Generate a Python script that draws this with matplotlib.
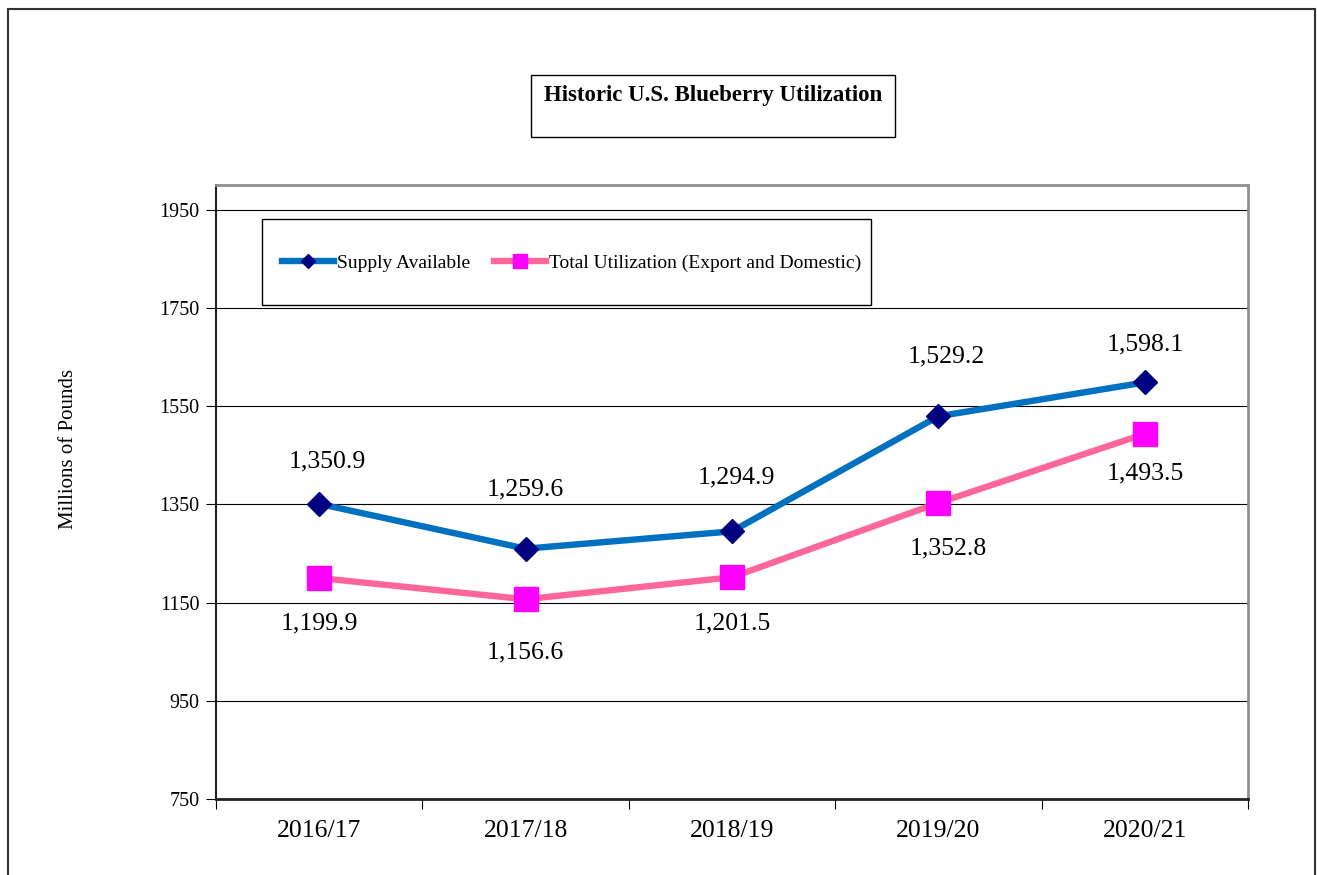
import numpy as np
import matplotlib
matplotlib.use("Agg")
import matplotlib.pyplot as plt
from matplotlib.patches import Rectangle

plt.rcParams['font.family'] = ['Liberation Serif', 'DejaVu Serif']

# data
seasons = ['2016/17', '2017/18', '2018/19', '2019/20', '2020/21']
supply = [1350.9, 1259.6, 1294.9, 1529.2, 1598.1]
utilization = [1199.9, 1156.6, 1201.5, 1352.8, 1493.5]
yticks = [750, 950, 1150, 1350, 1550, 1750, 1950]

# label nudges in pixels (as placed in the original)
supply_dy = [42, 59, 54, 60, 38]
supply_dx = [8, 0, 4, 8, 0]
util_dy = [45, 53, 46, 46, 40]
util_dx = [0, 0, 0, 10, 0]

W, H = 1317, 875
fig = plt.figure(figsize=(W / 100, H / 100), dpi=100)


def fbox(x0, y0, x1, y1):
    # pixel box (top-left origin) -> figure fraction
    return [x0 / W, 1 - y1 / H, (x1 - x0) / W, (y1 - y0) / H]


ax = fig.add_axes(fbox(216, 185, 1248, 799))
x = np.arange(len(seasons))

ax.plot(x, supply, color='#0070C0', lw=4.6, marker='D', ms=12.5,
        mfc='#000080', mec='#000080', label='Supply Available', zorder=3)
ax.plot(x, utilization, color='#FF6699', lw=4.6, marker='s', ms=17,
        mfc='#FF00FF', mec='#FF00FF', label='Total Utilization (Export and Domestic)',
        zorder=3)

for i, v in enumerate(supply):
    ax.annotate(f'{v:,.1f}', (x[i], v), xytext=(supply_dx[i], supply_dy[i]),
                textcoords='offset pixels', ha='center', va='center', fontsize=18.5)
for i, v in enumerate(utilization):
    ax.annotate(f'{v:,.1f}', (x[i], v), xytext=(util_dx[i], -util_dy[i]),
                textcoords='offset pixels', ha='center', va='center', fontsize=18.5)

ax.set_xlim(-0.5, len(seasons) - 0.5)
ax.set_ylim(750, 2000)
ax.set_yticks(yticks)
ax.set_yticklabels([str(t) for t in yticks], fontsize=14.5)
ax.grid(axis='y', color='black', lw=0.8)
ax.set_axisbelow(True)

ax.set_xticks(x)
ax.set_xticklabels(seasons, fontsize=18.5)
ax.set_xticks(np.arange(len(seasons) + 1) - 0.5, minor=True)
ax.tick_params(axis='x', which='major', length=0, pad=15)
ax.tick_params(axis='x', which='minor', length=7, width=0.8, direction='out')
ax.tick_params(axis='y', length=7, width=0.8, direction='out', pad=5)

ax.spines['left'].set_color('#222222')
ax.spines['left'].set_linewidth(1.5)
ax.spines['bottom'].set_color('#222222')
ax.spines['bottom'].set_linewidth(2)
ax.spines['top'].set_color('#909090')
ax.spines['top'].set_linewidth(2)
ax.spines['right'].set_color('#909090')
ax.spines['right'].set_linewidth(2)

ax.set_ylabel('Millions of Pounds', fontsize=15)
ax.yaxis.set_label_coords((78 - 216) / (1248 - 216), (799 - 449) / (799 - 185))

# legend with its own frame box
fig.patches.append(Rectangle(fbox(262, 219, 871, 305)[:2], 609 / W, 86 / H,
                             transform=fig.transFigure, fill=True, fc='white',
                             ec='black', lw=1, zorder=5))
leg = fig.legend(loc='center', bbox_to_anchor=((262 + 871) / 2 / W + 5 / W, 1 - 263 / H),
                 ncol=2, frameon=False, fontsize=14, handlelength=2.7,
                 handletextpad=0.15, columnspacing=1.2, markerscale=0.6)
leg.set_zorder(6)

# title box
fig.patches.append(Rectangle(fbox(531, 75, 895, 137)[:2], 364 / W, 62 / H,
                             transform=fig.transFigure, fill=False,
                             ec='black', lw=1))
fig.text(713 / W, 1 - 95 / H, 'Historic U.S. Blueberry Utilization',
         ha='center', va='center', fontsize=16.5, fontweight='bold')

# outer chart frame
fig.patches.append(Rectangle((8 / W, -0.02), (1315 - 8) / W, 1 - 9 / H + 0.02,
                             transform=fig.transFigure, fill=False,
                             ec='#333333', lw=1.5))

fig.savefig('out.png', dpi=100)
